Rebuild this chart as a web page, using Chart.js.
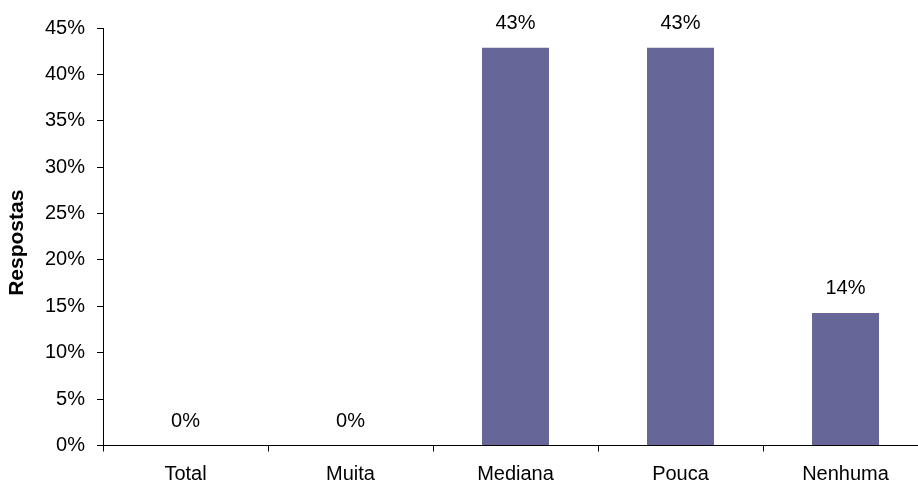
<!DOCTYPE html>
<html>
<head>
<meta charset="utf-8">
<script src="https://cdn.jsdelivr.net/npm/chart.js@4/dist/chart.umd.min.js"></script>
<style>
  html, body { margin: 0; padding: 0; background: #fff; overflow: hidden; }
  #wrap { width: 918px; height: 487px; overflow: hidden; position: relative; }
  #box { width: 928px; height: 487px; position: absolute; left: 0; top: 0; }
</style>
</head>
<body>
<div id="wrap"><div id="box"><canvas id="chart"></canvas></div></div>
<script>
// categories and answer shares (%)
const categories = ["Total", "Muita", "Mediana", "Pouca", "Nenhuma"];
const respostas = [0, 0, 42.86, 42.86, 14.29];
const yTicks = [0, 5, 10, 15, 20, 25, 30, 35, 40, 45];
const yTitle = "Respostas";

const FONT = "'Liberation Sans', Arial, sans-serif";
Chart.defaults.font.family = FONT;
Chart.defaults.color = "#000";

// value labels above the bars + axis title (a bit below the axis middle, like the original)
const barLabels = {
  id: "barLabels",
  afterDatasetsDraw(chart) {
    const ctx = chart.ctx;
    const meta = chart.getDatasetMeta(0);
    ctx.save();
    ctx.font = "20px " + FONT;
    ctx.fillStyle = "#000";
    ctx.textAlign = "center";
    ctx.textBaseline = "alphabetic";
    meta.data.forEach((bar, i) => {
      ctx.fillText(Math.round(respostas[i]) + "%", bar.x, bar.y - 19);
    });

    const y = chart.scales.y;
    ctx.translate(17, (y.top + y.bottom) / 2 + 6);
    ctx.rotate(-Math.PI / 2);
    ctx.font = "bold 21px " + FONT;
    ctx.textBaseline = "middle";
    ctx.fillText(yTitle, 0, 0);
    ctx.restore();
  },
};

new Chart(document.getElementById("chart"), {
  type: "bar",
  data: {
    labels: categories,
    datasets: [
      {
        data: respostas,
        backgroundColor: "#666699",
        borderWidth: 0,
        barPercentage: 0.406,
        categoryPercentage: 1,
      },
    ],
  },
  options: {
    responsive: true,
    maintainAspectRatio: false,
    animation: false,
    layout: { padding: { top: 28, right: 0, bottom: 0, left: 0 } },
    plugins: {
      legend: { display: false },
      tooltip: { enabled: false },
    },
    scales: {
      x: {
        grid: {
          offset: true,
          drawOnChartArea: false,
          drawTicks: true,
          tickLength: 6,
          color: "#000",
        },
        border: { display: true, color: "#000", width: 1 },
        ticks: { font: { size: 20 }, padding: 11, maxRotation: 0 },
        afterFit: (s) => { s.height = 41.5; },
      },
      y: {
        min: 0,
        max: 45,
        afterBuildTicks: (s) => { s.ticks = yTicks.map((v) => ({ value: v })); },
        grid: {
          drawOnChartArea: false,
          drawTicks: true,
          tickLength: 6,
          color: "#000",
        },
        border: { display: true, color: "#000", width: 1 },
        ticks: {
          font: { size: 20 },
          padding: 12,
          callback: (v) => v + "%",
        },
        afterFit: (s) => { s.width = 103; },
      },
    },
  },
  plugins: [barLabels],
});
</script>
</body>
</html>
